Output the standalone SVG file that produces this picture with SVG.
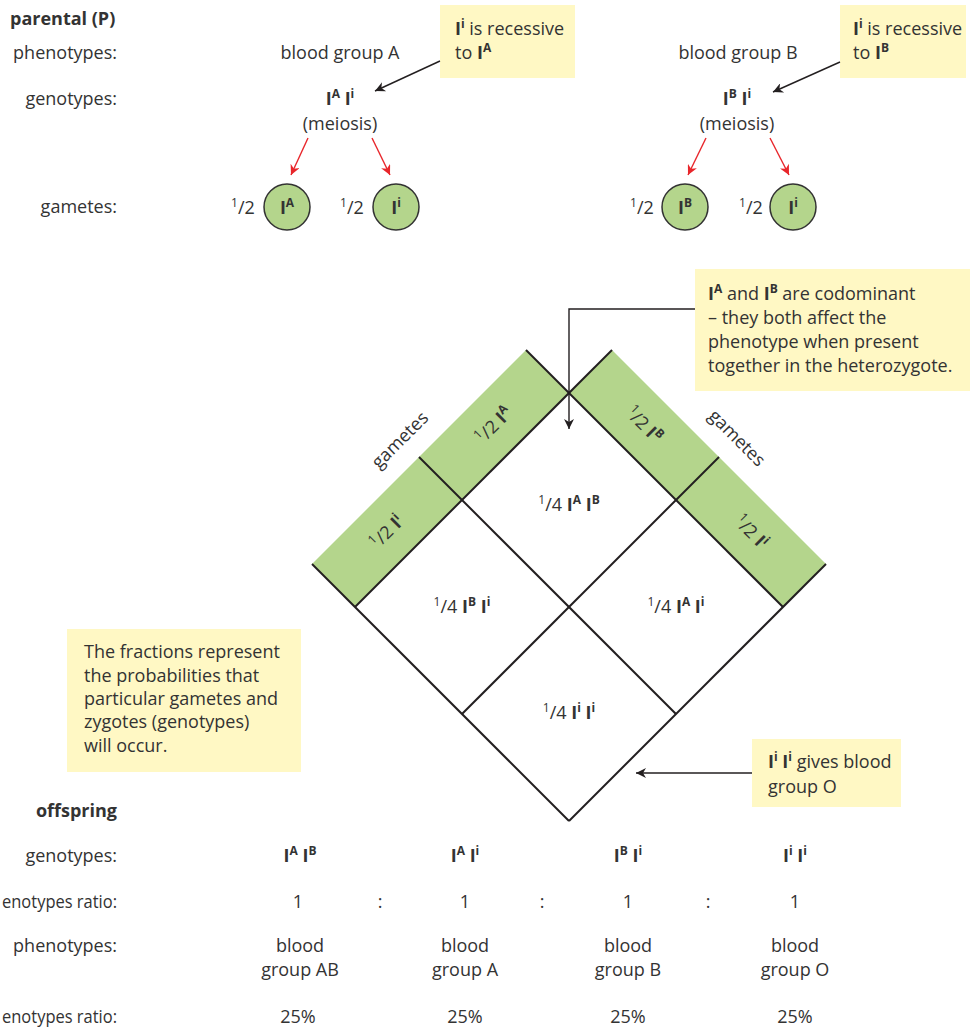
<svg xmlns="http://www.w3.org/2000/svg" width="970" height="1030" viewBox="0 0 970 1030">
<defs>
<style>
.t{font-family:"Open Sans","Noto Sans","DejaVu Sans",sans-serif;font-size:18px;fill:#333}
.b{font-weight:bold}
.m{text-anchor:middle}
.e{text-anchor:end}
.s{font-size:12px}
.note{fill:#fff8c4}
.gam{fill:#b4d58c;stroke:#333;stroke-width:1.5}
.band{fill:#b4d58c}
.grid{stroke:#231f20;stroke-width:2;fill:none}
.arr{stroke:#231f20;stroke-width:1.4;fill:none;marker-end:url(#ah)}
.red{stroke:#e8262b;stroke-width:1.4;fill:none;marker-end:url(#ahr)}
</style>
<marker id="ah" viewBox="0 0 10 10" refX="10" refY="5" markerWidth="13" markerHeight="10" orient="auto" markerUnits="userSpaceOnUse"><path d="M0,0 L10,5 L0,10 L3,5 z" fill="#231f20"/></marker>
<marker id="ahr" viewBox="0 0 10 10" refX="10" refY="5" markerWidth="13" markerHeight="10" orient="auto" markerUnits="userSpaceOnUse"><path d="M0,0 L10,5 L0,10 L3,5 z" fill="#e8262b"/></marker>
</defs>
<rect width="970" height="1030" fill="#fff"/>

<g id="row-labels-parental">
<text class="t b" x="10" y="25">parental (P)</text>
<text class="t e" x="117" y="59">phenotypes:</text>
<text class="t e" x="117" y="105">genotypes:</text>
<text class="t e" x="117" y="213">gametes:</text>
</g>

<g id="parent-A">
<text class="t m" x="340" y="59">blood group A</text>
<text class="t b m" x="340" y="105">I<tspan class="s" dy="-7">A</tspan><tspan dy="7"> I</tspan><tspan class="s" dy="-7">i</tspan></text>
<text class="t m" x="340" y="130">(meiosis)</text>
</g>
<g id="gamete-A1">
<text class="t" x="231" y="214"><tspan class="s" dy="-7">1</tspan><tspan dy="7">/2</tspan></text>
<circle class="gam" cx="287" cy="207" r="23"/>
<text class="t b m" x="287" y="214">I<tspan class="s" dy="-7">A</tspan></text>
</g>
<g id="gamete-A2">
<text class="t" x="340" y="214"><tspan class="s" dy="-7">1</tspan><tspan dy="7">/2</tspan></text>
<circle class="gam" cx="396" cy="207" r="23"/>
<text class="t b m" x="396" y="214">I<tspan class="s" dy="-7">i</tspan></text>
</g>

<g id="parent-B">
<text class="t m" x="738" y="59">blood group B</text>
<text class="t b m" x="737" y="105">I<tspan class="s" dy="-7">B</tspan><tspan dy="7"> I</tspan><tspan class="s" dy="-7">i</tspan></text>
<text class="t m" x="737" y="130">(meiosis)</text>
</g>
<g id="gamete-B1">
<text class="t" x="630" y="214"><tspan class="s" dy="-7">1</tspan><tspan dy="7">/2</tspan></text>
<circle class="gam" cx="685" cy="207" r="23"/>
<text class="t b m" x="685" y="214">I<tspan class="s" dy="-7">B</tspan></text>
</g>
<g id="gamete-B2">
<text class="t" x="739" y="214"><tspan class="s" dy="-7">1</tspan><tspan dy="7">/2</tspan></text>
<circle class="gam" cx="793" cy="207" r="23"/>
<text class="t b m" x="793" y="214">I<tspan class="s" dy="-7">i</tspan></text>
</g>

<g id="note-recessive-A">
<rect class="note" x="440" y="5" width="135" height="73"/>
<text class="t" x="455" y="35"><tspan class="b">I</tspan><tspan class="s b" dy="-7">i</tspan><tspan dy="7"> is recessive</tspan></text>
<text class="t" x="455" y="59">to <tspan class="b">I</tspan><tspan class="s b" dy="-7">A</tspan></text>
</g>
<g id="note-recessive-B">
<rect class="note" x="840" y="5" width="126" height="73"/>
<text class="t" x="853" y="35"><tspan class="b">I</tspan><tspan class="s b" dy="-7">i</tspan><tspan dy="7"> is recessive</tspan></text>
<text class="t" x="853" y="59">to <tspan class="b">I</tspan><tspan class="s b" dy="-7">B</tspan></text>
</g>

<g id="note-codominant">
<rect class="note" x="695" y="269" width="275" height="122"/>
<text class="t" x="708" y="300"><tspan class="b">I</tspan><tspan class="s b" dy="-7">A</tspan><tspan dy="7"> and </tspan><tspan class="b">I</tspan><tspan class="s b" dy="-7">B</tspan><tspan dy="7"> are codominant</tspan></text>
<text class="t" x="708" y="324">– they both affect the</text>
<text class="t" x="708" y="348">phenotype when present</text>
<text class="t" x="708" y="372">together in the heterozygote.</text>
</g>

<g id="punnett">
<polygon class="band" points="526,350 569,393 355,607 312,564"/>
<polygon class="band" points="612,350 826,564 783,607 569,393"/>
<g class="grid">
<line x1="312" y1="564" x2="569" y2="821"/>
<line x1="419" y1="457" x2="676" y2="714"/>
<line x1="526" y1="350" x2="783" y2="607"/>
<line x1="612" y1="350" x2="355" y2="607"/>
<line x1="719" y1="457" x2="462" y2="714"/>
<line x1="826" y1="564" x2="569" y2="821"/>
</g>
<text class="t m" transform="translate(400,440) rotate(-45)" x="0" y="6">gametes</text>
<text class="t m" transform="translate(737,438) rotate(45)" x="0" y="6">gametes</text>
<text class="t m" transform="translate(494,425) rotate(-45)" x="0" y="6"><tspan class="s" dy="-7">1</tspan><tspan dy="7">/2 </tspan><tspan class="b">I</tspan><tspan class="s b" dy="-7">A</tspan></text>
<text class="t m" transform="translate(387,532) rotate(-45)" x="0" y="6"><tspan class="s" dy="-7">1</tspan><tspan dy="7">/2 </tspan><tspan class="b">I</tspan><tspan class="s b" dy="-7">i</tspan></text>
<text class="t m" transform="translate(644,425) rotate(45)" x="0" y="6"><tspan class="s" dy="-7">1</tspan><tspan dy="7">/2 </tspan><tspan class="b">I</tspan><tspan class="s b" dy="-7">B</tspan></text>
<text class="t m" transform="translate(751,532) rotate(45)" x="0" y="6"><tspan class="s" dy="-7">1</tspan><tspan dy="7">/2 </tspan><tspan class="b">I</tspan><tspan class="s b" dy="-7">i</tspan></text>
<text class="t m" x="569" y="511"><tspan class="s" dy="-7">1</tspan><tspan dy="7">/4 </tspan><tspan class="b">I</tspan><tspan class="s b" dy="-7">A</tspan><tspan class="b" dy="7"> I</tspan><tspan class="s b" dy="-7">B</tspan></text>
<text class="t m" x="462" y="613"><tspan class="s" dy="-7">1</tspan><tspan dy="7">/4 </tspan><tspan class="b">I</tspan><tspan class="s b" dy="-7">B</tspan><tspan class="b" dy="7"> I</tspan><tspan class="s b" dy="-7">i</tspan></text>
<text class="t m" x="676" y="613"><tspan class="s" dy="-7">1</tspan><tspan dy="7">/4 </tspan><tspan class="b">I</tspan><tspan class="s b" dy="-7">A</tspan><tspan class="b" dy="7"> I</tspan><tspan class="s b" dy="-7">i</tspan></text>
<text class="t m" x="569" y="719"><tspan class="s" dy="-7">1</tspan><tspan dy="7">/4 </tspan><tspan class="b">I</tspan><tspan class="s b" dy="-7">i</tspan><tspan class="b" dy="7"> I</tspan><tspan class="s b" dy="-7">i</tspan></text>
</g>

<g id="note-fractions">
<rect class="note" x="67" y="629" width="234" height="143"/>
<text class="t" x="84" y="658">The fractions represent</text>
<text class="t" x="84" y="682">the probabilities that</text>
<text class="t" x="84" y="705">particular gametes and</text>
<text class="t" x="84" y="728">zygotes (genotypes)</text>
<text class="t" x="84" y="752">will occur.</text>
</g>

<g id="note-group-O">
<rect class="note" x="752" y="739" width="149" height="68"/>
<text class="t" x="768" y="768"><tspan class="b">I</tspan><tspan class="s b" dy="-7">i</tspan><tspan class="b" dy="7"> I</tspan><tspan class="s b" dy="-7">i</tspan><tspan dy="7"> gives blood</tspan></text>
<text class="t" x="768" y="793">group O</text>
</g>

<g id="connectors">
<line class="arr" x1="440" y1="61" x2="375" y2="91"/>
<line class="arr" x1="840" y1="62" x2="773" y2="92"/>
<path class="arr" d="M695,309 H569 V429"/>
<line class="arr" x1="752" y1="773" x2="636" y2="773"/>
<line class="red" x1="308" y1="138" x2="291" y2="175"/>
<line class="red" x1="372" y1="138" x2="390" y2="175"/>
<line class="red" x1="706" y1="138" x2="688" y2="175"/>
<line class="red" x1="770" y1="138" x2="789" y2="175"/>
</g>

<g id="offspring-table">
<text class="t b e" x="117" y="817">offspring</text>
<text class="t e" x="117" y="862">genotypes:</text>
<text class="t" x="2" y="908" textLength="115" lengthAdjust="spacingAndGlyphs">enotypes ratio:</text>
<text class="t e" x="117" y="952">phenotypes:</text>
<text class="t" x="2" y="1023" textLength="115" lengthAdjust="spacingAndGlyphs">enotypes ratio:</text>
<text class="t b m" x="300" y="862">I<tspan class="s" dy="-7">A</tspan><tspan dy="7"> I</tspan><tspan class="s" dy="-7">B</tspan></text>
<text class="t b m" x="465" y="862">I<tspan class="s" dy="-7">A</tspan><tspan dy="7"> I</tspan><tspan class="s" dy="-7">i</tspan></text>
<text class="t b m" x="628" y="862">I<tspan class="s" dy="-7">B</tspan><tspan dy="7"> I</tspan><tspan class="s" dy="-7">i</tspan></text>
<text class="t b m" x="795" y="862">I<tspan class="s" dy="-7">i</tspan><tspan dy="7"> I</tspan><tspan class="s" dy="-7">i</tspan></text>
<text class="t m" x="298" y="908">1</text>
<text class="t m" x="380" y="908">:</text>
<text class="t m" x="465" y="908">1</text>
<text class="t m" x="542" y="908">:</text>
<text class="t m" x="628" y="908">1</text>
<text class="t m" x="708" y="908">:</text>
<text class="t m" x="795" y="908">1</text>
<text class="t m" x="300" y="952">blood</text>
<text class="t m" x="300" y="976">group AB</text>
<text class="t m" x="465" y="952">blood</text>
<text class="t m" x="465" y="976">group A</text>
<text class="t m" x="628" y="952">blood</text>
<text class="t m" x="628" y="976">group B</text>
<text class="t m" x="795" y="952">blood</text>
<text class="t m" x="795" y="976">group O</text>
<text class="t m" x="298" y="1023">25%</text>
<text class="t m" x="465" y="1023">25%</text>
<text class="t m" x="628" y="1023">25%</text>
<text class="t m" x="795" y="1023">25%</text>
</g>
</svg>
